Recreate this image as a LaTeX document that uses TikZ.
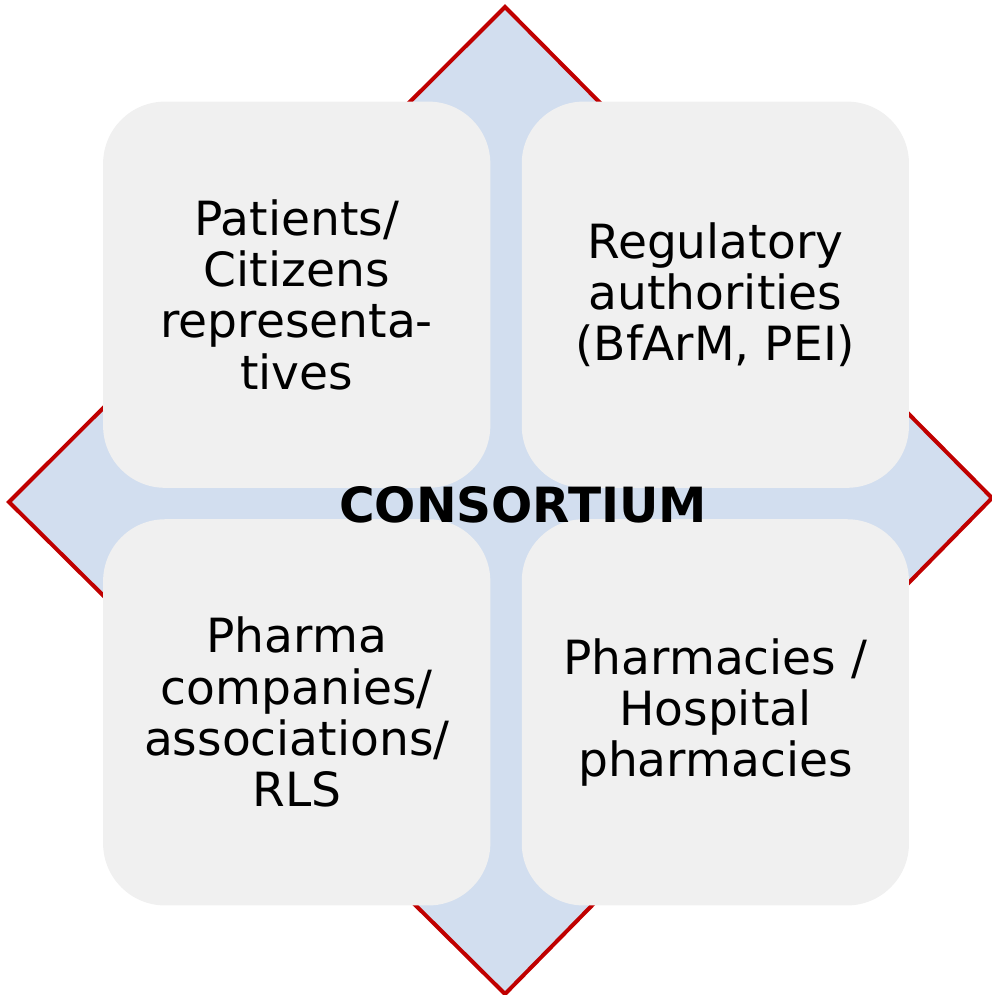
\documentclass[tikz,border=0pt]{standalone}
\usepackage{fontspec}
\setmainfont{DejaVu Sans}
\usetikzlibrary{shapes,arrows,positioning}
\definecolor{crossblue}{HTML}{D2DEEF}
\definecolor{edgered}{HTML}{C00000}
\definecolor{boxgray}{HTML}{F0F0F0}

\begin{document}
\begin{tikzpicture}[x=0.01cm, y=-0.01cm, node distance=0.3cm,
    group/.style={fill=boxgray, rectangle, rounded corners=0.62cm, minimum width=3.87cm, minimum height=3.86cm, align=center, inner sep=0pt, font=\fontsize{13.4}{14.6}\selectfont}]
    \useasboundingbox (0,0) rectangle (992,995);

    % Diamond
    \coordinate (top) at (505,7);
    \coordinate (rgt) at (992,498);
    \coordinate (bot) at (505,994);
    \coordinate (lft) at (9,502);
    \filldraw[fill=crossblue, draw=edgered, line width=0.4mm] (top) -- (rgt) -- (bot) -- (lft) -- cycle;

    % Nodes
    \node[group] (patients) at (296.7,294.7) {Patients/\\Citizens\\representa-\\tives};
    \node[group, right=of patients] (regulatory) {Regulatory\\authorities\\(BfArM, PEI)};
    \node[group, below=of patients] (pharma) {Pharma\\companies/\\associations/\\RLS};
    \node[group, right=of pharma] (pharmacies) {Pharmacies /\\Hospital\\pharmacies};

    % Label
    \node[font=\fontsize{13.8}{15}\selectfont\bfseries, inner sep=0pt] (consortium) at (523,505) {CONSORTIUM};
\end{tikzpicture}
\end{document}
